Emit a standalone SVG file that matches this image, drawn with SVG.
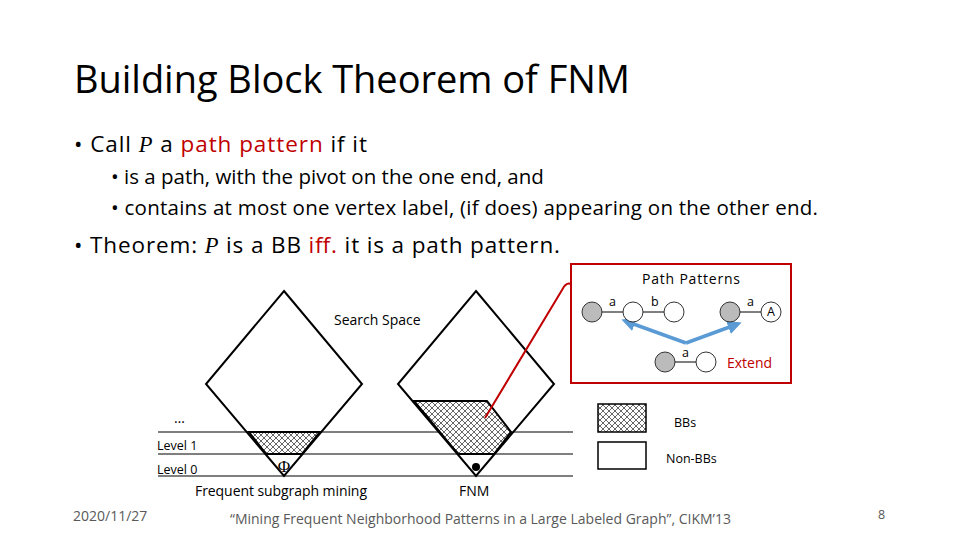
<svg xmlns="http://www.w3.org/2000/svg" width="960" height="540" viewBox="0 0 960 540">
<style>
text{font-family:"Open Sans","Liberation Sans",sans-serif;fill:#000}
.b{font-size:22.5px}.s{font-size:14px}.t{font-size:12.5px}
.k{fill:none;stroke:#000;stroke-width:2}
.ln{stroke:#000;stroke-width:1.2}
.r{fill:#c00000}
.g{fill:#bbb;stroke:#333;stroke-width:1}.w{fill:#fff;stroke:#333;stroke-width:1}
</style>
<defs>
<pattern id="h" width="6" height="6" patternUnits="userSpaceOnUse">
<rect width="6" height="6" fill="#fff"/><path d="M0 0L6 6M6 0L0 6" stroke="#000" stroke-width="0.6"/></pattern>
<marker id="ar" viewBox="0 0 10 10" refX="5" refY="5" markerWidth="4" markerHeight="4" orient="auto"><path d="M0 0L10 5L0 10z" fill="#5b9bd5"/></marker>
</defs>
<rect width="960" height="540" fill="#fff"/>
<text x="74" y="93" textLength="556" style="font-size:38px;font-family:'Open Sans','Liberation Sans',sans-serif">Building Block Theorem of FNM</text>
<text x="74" y="152" class="b" textLength="293">• Call <tspan font-style="italic" font-family="Liberation Serif">P</tspan> a <tspan class="r">path pattern</tspan> if it</text>
<text x="111" y="184" style="font-size:20.5px">• is a path, with the pivot on the one end, and</text>
<text x="111" y="215" style="font-size:20.5px" textLength="707">• contains at most one vertex label, (if does) appearing on the other end.</text>
<text x="74" y="253" class="b" textLength="486">• Theorem: <tspan font-style="italic" font-family="Liberation Serif">P</tspan> is a BB <tspan class="r">iff.</tspan> it is a path pattern.</text>
<g id="levels">
<line x1="158" y1="432" x2="573" y2="432" class="ln"/>
<line x1="158" y1="454" x2="573" y2="454" class="ln"/>
<line x1="158" y1="476" x2="573" y2="476" class="ln"/>
</g>
<g id="left-space">
<path d="M249 432L320 432L302 454L266 454Z" fill="url(#h)" stroke="#000" stroke-width="2"/>
<path d="M284 291L362 384L284 476L206 384Z" class="k"/>
<text x="284" y="472" text-anchor="middle" style="font-size:17px;font-family:'Liberation Serif',serif">Φ</text>
</g>
<g id="right-space">
<path d="M414 401L487 401L511 432L494 454L458 454Z" fill="url(#h)" stroke="#000" stroke-width="2"/>
<path d="M476 291L554 384L476 476L398 384Z" class="k"/>
<circle cx="476" cy="467" r="4" fill="#000"/>
</g>
<text x="334" y="325" class="s">Search Space</text>
<text x="174" y="423" class="s">…</text>
<text x="157" y="450" class="t">Level 1</text>
<text x="157" y="474" class="t">Level 0</text>
<text x="195" y="496" class="s" textLength="172">Frequent subgraph mining</text>
<text x="459" y="496" class="s">FNM</text>
<g id="legend">
<rect x="598" y="404" width="48" height="28" fill="url(#h)" stroke="#000" stroke-width="1.5"/>
<rect x="598" y="442" width="48" height="27" fill="#fff" stroke="#000" stroke-width="1.5"/>
<text x="674" y="427" class="t">BBs</text>
<text x="666" y="463" class="t">Non-BBs</text>
</g>
<g id="connectors">
<path d="M571 284Q566 282 562 290L485 418" fill="none" stroke="#c00000" stroke-width="2"/>
<path d="M686 343L628 322" stroke="#5b9bd5" stroke-width="3.5" marker-end="url(#ar)"/>
<path d="M686 343L735 325" stroke="#5b9bd5" stroke-width="3.5" marker-end="url(#ar)"/>
</g>
<g id="path-patterns">
<rect x="571" y="264" width="220" height="119" fill="none" stroke="#c00000" stroke-width="2"/>
<text x="642" y="284" class="s" textLength="98">Path Patterns</text>
<line x1="592" y1="312" x2="674" y2="312" stroke="#000"/>
<circle cx="592" cy="312" r="10" class="g"/><circle cx="633" cy="312" r="10" class="w"/><circle cx="674" cy="312" r="10" class="w"/>
<text x="609" y="306" class="t">a</text><text x="651" y="306" class="t">b</text>
<line x1="730" y1="312" x2="771" y2="312" stroke="#000"/>
<circle cx="730" cy="312" r="10" class="g"/><circle cx="771" cy="312" r="10" class="w"/>
<text x="747" y="306" class="t">a</text><text x="771" y="316" class="t" text-anchor="middle">A</text>
<line x1="665" y1="362" x2="706" y2="362" stroke="#000"/>
<circle cx="665" cy="362" r="10" class="g"/><circle cx="706" cy="362" r="10" class="w"/>
<text x="682" y="357" class="t">a</text>
<text x="727" y="368" class="s r">Extend</text>
</g>
<text x="73" y="521" class="s" style="fill:#595959">2020/11/27</text>
<text x="230" y="524" class="s" style="fill:#595959" textLength="501">“Mining Frequent Neighborhood Patterns in a Large Labeled Graph”, CIKM’13</text>
<text x="878" y="519" class="t" style="fill:#595959">8</text>
</svg>
